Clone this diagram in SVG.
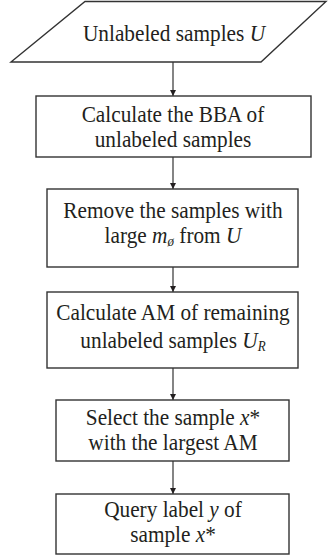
<svg xmlns="http://www.w3.org/2000/svg" width="328" height="559" viewBox="0 0 328 559">
<style>
.box{fill:#fff;stroke:#333;stroke-width:1.4}
.t{font-family:"Liberation Serif","Times New Roman",serif;font-size:21.3px;fill:#231f20;text-anchor:middle}
.i{font-style:italic}
.s{font-style:italic;font-size:13px}
.c{stroke:#333;stroke-width:1.2;fill:none}
</style>
<defs>
<marker id="ah" viewBox="0 0 10 10" refX="10" refY="5" markerWidth="6" markerHeight="7" markerUnits="userSpaceOnUse" orient="auto">
<path d="M0,0 L10,5 L0,10 z" fill="#231f20"/>
</marker>
</defs>
<rect width="328" height="559" fill="#fff"/>
<g id="connectors">
<line class="c" x1="173" y1="62" x2="173" y2="96" marker-end="url(#ah)"/>
<line class="c" x1="173" y1="157" x2="173" y2="189" marker-end="url(#ah)"/>
<line class="c" x1="173" y1="267" x2="173" y2="292" marker-end="url(#ah)"/>
<line class="c" x1="173" y1="368" x2="173" y2="400" marker-end="url(#ah)"/>
<line class="c" x1="173" y1="461" x2="173" y2="494" marker-end="url(#ah)"/>
</g>
<g id="n0">
<polygon class="box" points="85,1.5 326,1.5 261,62 11,62"/>
<text class="t" transform="translate(174,41) scale(1,1.1)">Unlabeled samples <tspan class="i">U</tspan></text>
</g>
<g id="n1">
<rect class="box" x="36" y="96" width="275" height="61"/>
<text class="t" transform="translate(173,122) scale(1,1.1)">Calculate the BBA of</text>
<text class="t" transform="translate(173,147) scale(1,1.1)">unlabeled samples</text>
</g>
<g id="n2">
<rect class="box" x="47" y="189" width="251" height="78"/>
<text class="t" transform="translate(173,218) scale(1,1.1)">Remove the samples with</text>
<text class="t" transform="translate(173,243) scale(1,1.1)">large <tspan class="i">m</tspan><tspan class="s" dy="3">ø</tspan><tspan dy="-3"> from </tspan><tspan class="i">U</tspan></text>
</g>
<g id="n3">
<rect class="box" x="47" y="292" width="251" height="76"/>
<text class="t" transform="translate(173,320) scale(1,1.1)">Calculate AM of remaining</text>
<text class="t" transform="translate(173,348) scale(1,1.1)">unlabeled samples <tspan class="i">U</tspan><tspan class="s" dy="3">R</tspan></text>
</g>
<g id="n4">
<rect class="box" x="56" y="400" width="233" height="61"/>
<text class="t" transform="translate(173,425) scale(1,1.1)">Select the sample <tspan class="i">x</tspan>*</text>
<text class="t" transform="translate(173,450) scale(1,1.1)">with the largest AM</text>
</g>
<g id="n5">
<rect class="box" x="56" y="494" width="233" height="60"/>
<text class="t" transform="translate(173,517) scale(1,1.1)">Query label <tspan class="i">y</tspan> of</text>
<text class="t" transform="translate(173,542) scale(1,1.1)">sample <tspan class="i">x</tspan>*</text>
</g>
</svg>
